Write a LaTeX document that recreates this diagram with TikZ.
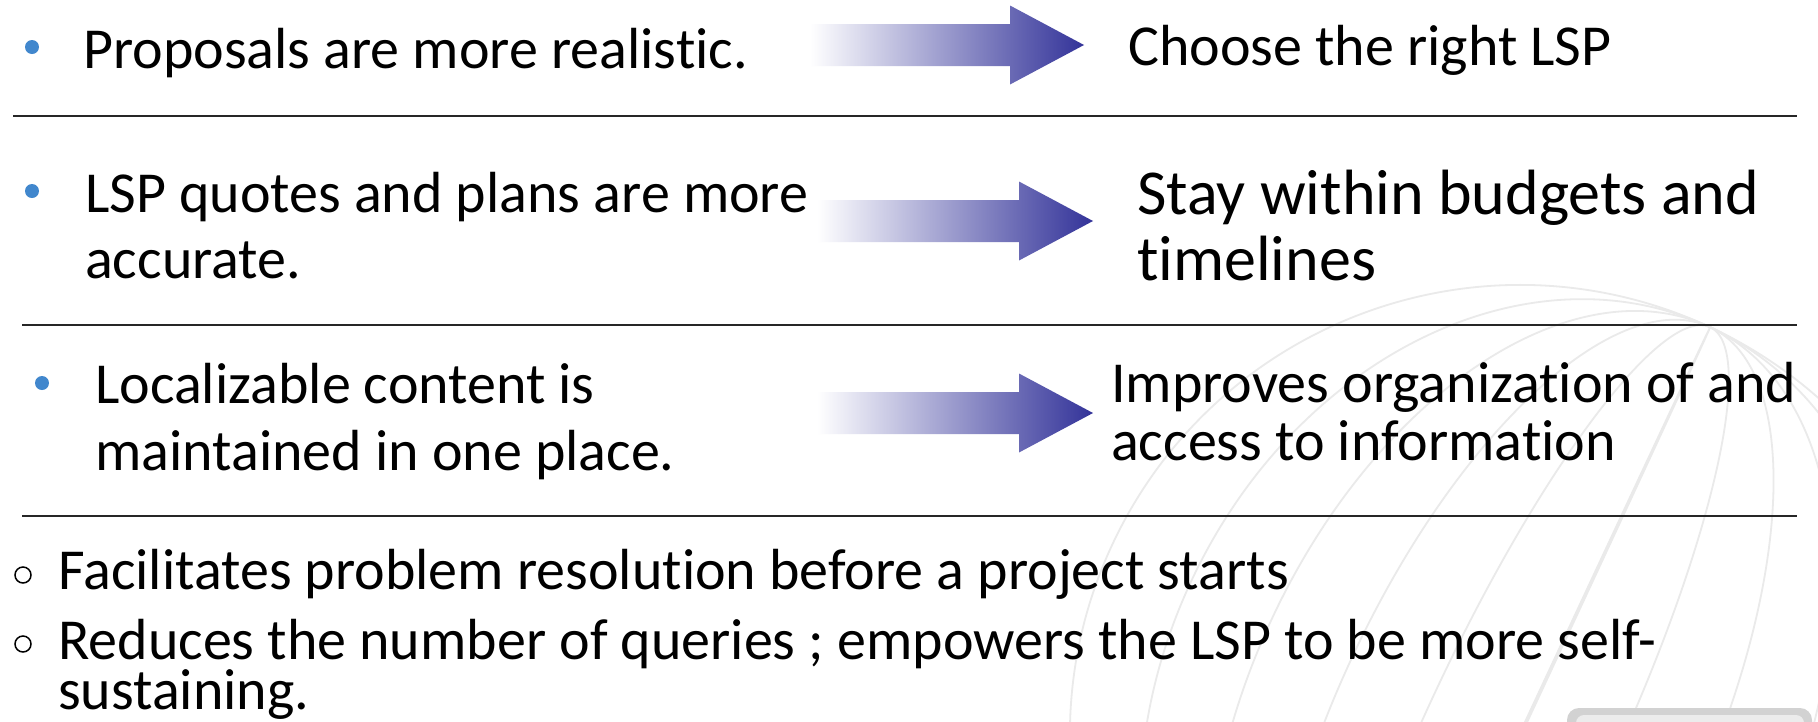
\documentclass[tikz,border=0pt]{standalone}
\usepackage{fontspec}
\setmainfont{Carlito}[Ligatures=CommonOff]
\definecolor{arrowblue}{RGB}{51,51,153}
\definecolor{arrowmid}{RGB}{180,180,212}
\definecolor{bulletblue}{RGB}{65,135,205}
\definecolor{globegray}{RGB}{234,234,234}
\newcommand{\gradarrow}[4]{% tail x, head base x, tip x, centre y
  \shade[left color=white, middle color=arrowmid, right color=arrowblue]
    (#1,#4-21) -- (#2,#4-21) -- (#2,#4-39.5) -- (#3,#4) -- (#2,#4+39.5)
    -- (#2,#4+21) -- (#1,#4+21) -- cycle;}
\begin{document}
\begin{tikzpicture}[x=1pt,y=-1pt,
  txt/.style={anchor=base west, inner sep=0pt, text height=0.7em, text depth=0.2em, font=\fontsize{58}{66}\selectfont},
  txtbig/.style={anchor=base west, inner sep=0pt, text height=0.7em, text depth=0.2em, font=\fontsize{64}{70}\selectfont},
  rule/.style={line width=2.8pt, color=black!85},
  dot/.style={circle, fill=bulletblue, inner sep=0pt, minimum size=14pt},
  ring/.style={circle, draw=black, line width=1.5pt, inner sep=0pt, minimum size=16pt},
  globe/.style={draw=globegray, line width=1.8pt},
]
\fill[white] (0,0) rectangle (1818,721);
\useasboundingbox (0,0) rectangle (1818,721);
% faint globe in the background
\begin{scope}
  \clip (0,0) rectangle (1818,721);
  \foreach \rx in {1,95,185,274,363,450} {
    \draw[globe, rotate around={-25:(1520,735)}] (1520,735) ellipse [x radius=\rx, y radius=450];
  }
  \fill[gray!35, rounded corners=12pt] (1567,708) rectangle (1812,760);
  \fill[gray!15, rounded corners=8pt] (1576,715) rectangle (1804,760);
\end{scope}
% separator rules
\coordinate (s1a) at (13,116);  \coordinate (s1b) at (1797,116);
\coordinate (s2a) at (22,325);  \coordinate (s2b) at (1797,325);
\coordinate (s3a) at (22,516);  \coordinate (s3b) at (1797,516);
\draw[rule] (s1a) -- (s1b);
\draw[rule] (s2a) -- (s2b);
\draw[rule] (s3a) -- (s3b);
% arrows
\gradarrow{810}{1010}{1084}{45}
\gradarrow{817}{1019}{1093}{221}
\gradarrow{817}{1019}{1093}{413}
% bullets
\node[dot] (d1) at (32,47) {};
\node[dot] (d2) at (32,191) {};
\node[dot] (d3) at (42,383) {};
\node[ring] (o1) at (23,575) {};
\node[ring] (o2) at (23,644) {};
% texts
\node[txt] (l1) at (83,68) {Proposals are more realistic.};
\node[txt] (r1) at (1128,65) {Choose the right LSP};
\node[txt] (l2a) at (85,212) {LSP quotes and plans are more};
\node[txt] (l2b) at (85,278) {accurate.};
\node[txtbig] (r2a) at (1137,214) {Stay within budgets and};
\node[txtbig] (r2b) at (1137,280) {timelines};
\node[txt] (l3a) at (95,403) {Localizable content is};
\node[txt] (l3b) at (95,470) {maintained in one place.};
\node[txt] (r3a) at (1111,402) {Improves organization of and};
\node[txt] (r3b) at (1111,460) {access to information};
\node[txt] (b1) at (58,589) {Facilitates problem resolution before a project starts};
\node[txt] (b2a) at (58,659) {Reduces the number of queries ; empowers the LSP to be more self-};
\node[txt] (b2b) at (58,709) {sustaining.};
\end{tikzpicture}
\end{document}
